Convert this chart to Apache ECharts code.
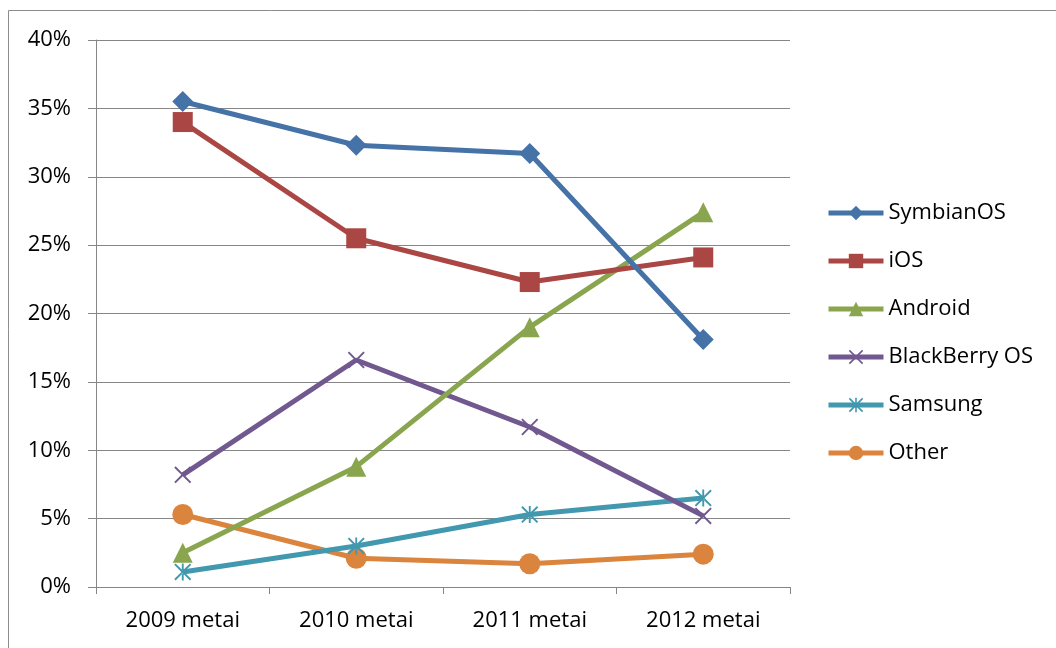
<!DOCTYPE html>
<html><head><meta charset="utf-8">
<script src="https://cdn.jsdelivr.net/npm/echarts@6/dist/echarts.min.js"></script>
<style>html,body{margin:0;padding:0;background:#fff}#c{width:1056px;height:648px}</style>
</head><body><div id="c"></div>
<script>
var categories = ['2009 metai', '2010 metai', '2011 metai', '2012 metai'];
var seriesNames = ['SymbianOS', 'iOS', 'Android', 'BlackBerry OS', 'Samsung', 'Other'];
var symbianOS = [0.355, 0.323, 0.317, 0.181];
var iOS = [0.340, 0.255, 0.223, 0.241];
var android = [0.025, 0.088, 0.190, 0.274];
var blackBerry = [0.082, 0.166, 0.117, 0.052];
var samsung = [0.011, 0.030, 0.053, 0.065];
var other = [0.053, 0.021, 0.017, 0.024];

var colors = ['#4572A7', '#AA4643', '#89A54E', '#71588F', '#4198AF', '#DB843D'];
var FONT = 'Open Sans';
var xPath = 'path://M0,0.8L0.8,0L5,4.2L9.2,0L10,0.8L5.8,5L10,9.2L9.2,10L5,5.8L0.8,10L0,9.2L4.2,5Z';
var starPath = 'path://M0,0.8L0.8,0L5,4.2L9.2,0L10,0.8L5.8,5L10,9.2L9.2,10L5,5.8L0.8,10L0,9.2L4.2,5Z M4.45,0L5.55,0L5.55,4.4L5,4.2L4.45,4.4Z M4.45,10L5.55,10L5.55,5.6L5,5.8L4.45,5.6Z';

var dataSets = [symbianOS, iOS, android, blackBerry, samsung, other];
var symbols = ['diamond', 'rect', 'triangle', xPath, starPath, 'circle'];
var sizes = [21, 20, 20, 17, 17, 21];

var series = dataSets.map(function (d, i) {
  return {
    name: seriesNames[i],
    type: 'line',
    data: d,
    symbol: symbols[i],
    symbolSize: sizes[i],
    showAllSymbol: true,
    lineStyle: { color: colors[i], width: 5 },
    itemStyle: { color: colors[i] },
    emphasis: { disabled: true },
    z: 10 - i
  };
});

var chart = echarts.init(document.getElementById('c'), null, { renderer: 'canvas' });
chart.setOption({
  animation: false,
  color: colors,
  graphic: [
    { type: 'line', shape: { x1: 8.5, y1: 10.5, x2: 1056, y2: 10.5 }, style: { stroke: '#8c8c8c', lineWidth: 1 } },
    { type: 'line', shape: { x1: 8.5, y1: 10.5, x2: 8.5, y2: 648 }, style: { stroke: '#8c8c8c', lineWidth: 1 } }
  ],
  grid: { left: 96, right: 266, top: 40, bottom: 61, containLabel: false },
  legend: {
    orient: 'vertical',
    left: 821,
    top: 197,
    itemWidth: 55,
    itemHeight: 18,
    itemGap: 26,
    data: seriesNames,
    lineStyle: { width: 5 },
    textStyle: { fontFamily: FONT, fontSize: 22, color: '#000' }
  },
  xAxis: {
    type: 'category',
    data: categories,
    boundaryGap: true,
    axisLine: { show: true, lineStyle: { color: '#868686', width: 1 } },
    axisTick: { show: true, length: 7, inside: false, lineStyle: { color: '#868686' } },
    axisLabel: { fontFamily: FONT, fontSize: 22, color: '#000', margin: 23 },
    splitLine: { show: false }
  },
  yAxis: {
    type: 'value',
    min: 0,
    max: 0.4,
    interval: 0.05,
    axisLine: { show: true, lineStyle: { color: '#868686', width: 1 } },
    axisTick: { show: true, length: 8, inside: false, lineStyle: { color: '#868686' } },
    axisLabel: {
      fontFamily: FONT, fontSize: 22, color: '#000', margin: 25,
      formatter: function (v) { return Math.round(v * 100) + '%'; }
    },
    splitLine: { show: true, lineStyle: { color: '#868686', width: 1 } }
  },
  series: series
});
</script>
</body></html>
